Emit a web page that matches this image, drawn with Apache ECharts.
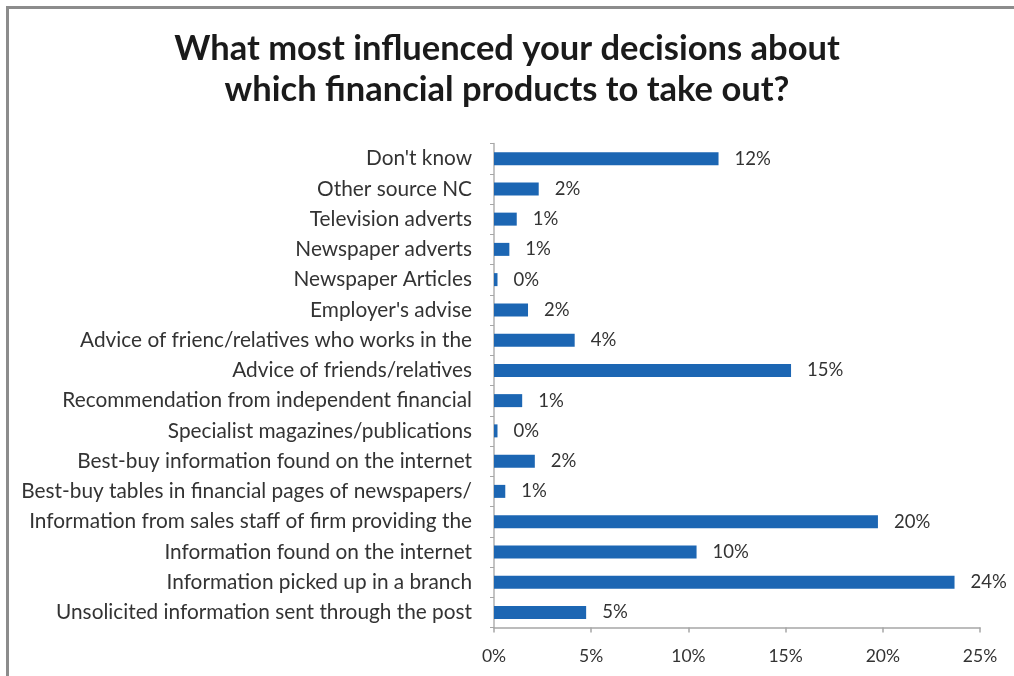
<!DOCTYPE html>
<html>
<head>
<meta charset="utf-8">
<title>Influences on financial product decisions</title>
<script src="https://cdn.jsdelivr.net/npm/echarts@6/dist/echarts.min.js"></script>
<style>
  html, body { margin: 0; padding: 0; background: #ffffff; }
  #chart { width: 1014px; height: 676px; }
</style>
</head>
<body>
<div id="chart"></div>
<script>
// Survey answers, listed top to bottom as they appear on the chart
const categories = [
  "Don't know",
  "Other source NC",
  "Television adverts",
  "Newspaper adverts",
  "Newspaper Articles",
  "Employer's advise",
  "Advice of frienc/relatives who works in the",
  "Advice of friends/relatives",
  "Recommendation from independent financial",
  "Specialist magazines/publications",
  "Best-buy information found on the internet",
  "Best-buy tables in financial pages of newspapers/",
  "Information from sales staff of firm providing the",
  "Information found on the internet",
  "Information picked up in a branch",
  "Unsolicited information sent through the post"
];

// Share of respondents (%)
const shares = [11.55, 2.3, 1.17, 0.79, 0.18, 1.75, 4.15, 15.28, 1.45, 0.18, 2.1, 0.58, 19.75, 10.42, 23.69, 4.74];

// Value axis ticks (%)
const axisMin = 0;
const axisMax = 25;
const axisStep = 5;

const titleLines = [
  'What most influenced your decisions about',
  'which financial products to take out?'
];

const chart = echarts.init(document.getElementById('chart'), null, { renderer: 'canvas' });

chart.setOption({
  backgroundColor: '#ffffff',
  animation: false,
  textStyle: { fontFamily: 'Lato, sans-serif' },
  title: {
    text: titleLines.join('\n'),
    left: 'center',
    top: 23,
    textStyle: {
      fontFamily: 'Lato, sans-serif',
      fontWeight: 'bold',
      fontSize: 34.5,
      lineHeight: 41,
      color: '#1a1a1a'
    }
  },
  graphic: [
    // page frame along the top and left edges
    { type: 'rect', shape: { x: 6, y: 6, width: 1008, height: 3 }, style: { fill: '#8c8c8c' }, silent: true },
    { type: 'rect', shape: { x: 6, y: 6, width: 3, height: 670 }, style: { fill: '#8c8c8c' }, silent: true }
  ],
  grid: {
    left: 494,
    right: 34,
    top: 143.5,
    bottom: 48.5,
    containLabel: false
  },
  xAxis: {
    type: 'value',
    min: axisMin,
    max: axisMax,
    interval: axisStep,
    axisLine: { show: true, lineStyle: { color: '#a6a6a6', width: 1.5 } },
    axisTick: { show: true, length: 5, lineStyle: { color: '#a6a6a6', width: 1.5 } },
    splitLine: { show: false },
    axisLabel: {
      formatter: '{value}%',
      margin: 20,
      fontSize: 17.5,
      color: '#333333',
      fontFamily: 'Lato, sans-serif'
    }
  },
  yAxis: {
    type: 'category',
    data: categories,
    inverse: true,
    axisLine: { show: true, lineStyle: { color: '#b0b0b0', width: 1.5 } },
    axisTick: { show: true, length: 4, inside: false, lineStyle: { color: '#a6a6a6', width: 1 } },
    axisLabel: {
      margin: 22,
      fontSize: 20.8,
      color: '#333333',
      fontFamily: 'Lato, sans-serif'
    }
  },
  series: [{
    type: 'bar',
    data: shares,
    barWidth: 13,
    itemStyle: { color: '#1c66b3' },
    label: {
      show: true,
      position: 'right',
      distance: 16,
      fontSize: 18.5,
      color: '#333333',
      fontFamily: 'Lato, sans-serif',
      formatter: p => Math.round(p.value) + '%'
    }
  }]
});
</script>
</body>
</html>
